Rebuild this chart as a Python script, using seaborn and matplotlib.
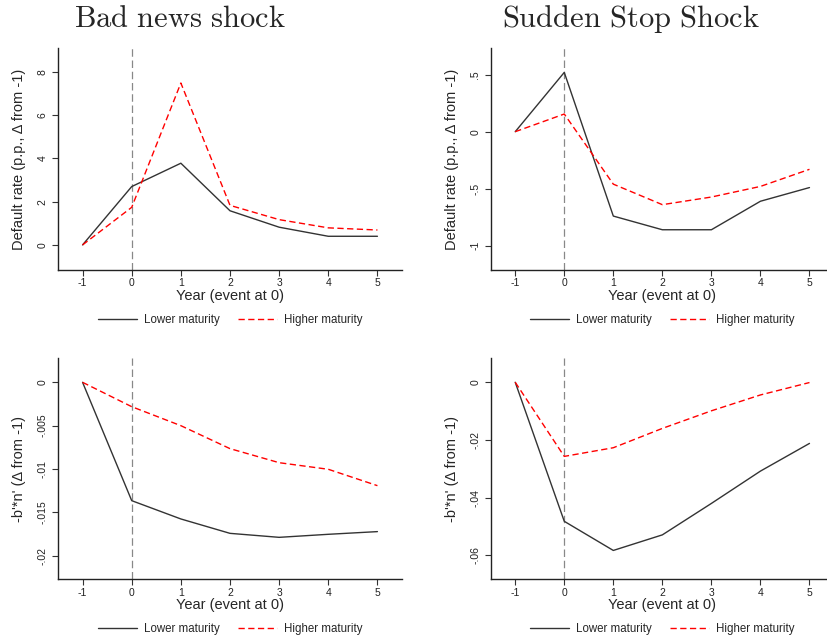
import numpy as np
import pandas as pd
import matplotlib
matplotlib.use("Agg")
import matplotlib.pyplot as plt
import seaborn as sns

years = [-1, 0, 1, 2, 3, 4, 5]
series_names = ["Lower maturity", "Higher maturity"]

# Bad news shock
bn_default_lower = [0.0, 2.7, 3.78, 1.58, 0.82, 0.40, 0.40]
bn_default_higher = [0.0, 1.74, 7.49, 1.83, 1.17, 0.79, 0.69]
bn_debt_lower = [0.0, -0.01365, -0.01576, -0.01742, -0.01788, -0.01753, -0.01722]
bn_debt_higher = [0.0, -0.00281, -0.0050, -0.00765, -0.00927, -0.01003, -0.01192]

# Sudden stop shock
ss_default_lower = [0.0, 0.52, -0.74, -0.86, -0.86, -0.61, -0.49]
ss_default_higher = [0.0, 0.155, -0.46, -0.64, -0.573, -0.48, -0.33]
ss_debt_lower = [0.0, -0.0482, -0.0583, -0.0529, -0.0420, -0.0308, -0.0212]
ss_debt_higher = [0.0, -0.0257, -0.0227, -0.0160, -0.0099, -0.0044, -0.0001]

titles = ["Bad news shock", "Sudden Stop Shock"]
xlabel = "Year (event at 0)"
ylabel_default = "Default rate (p.p., \u0394 from -1)"
ylabel_debt = "-b'*n' (\u0394 from -1)"

yt_bn_default = [0, 2, 4, 6, 8]
yt_bn_default_lab = ["0", "2", "4", "6", "8"]
yt_ss_default = [-1, -0.5, 0, 0.5]
yt_ss_default_lab = ["-1", "-.5", "0", ".5"]
yt_bn_debt = [-0.02, -0.015, -0.01, -0.005, 0]
yt_bn_debt_lab = ["-.02", "-.015", "-.01", "-.005", "0"]
yt_ss_debt = [-0.06, -0.04, -0.02, 0]
yt_ss_debt_lab = ["-.06", "-.04", "-.02", "0"]

sns.set_style("ticks")
plt.rcParams["font.family"] = ["Liberation Sans", "DejaVu Sans"]
plt.rcParams["mathtext.fontset"] = "cm"

W, H = 828, 641
fig = plt.figure(figsize=(W / 100, H / 100), dpi=100)

def add_ax(left, right, top, bottom):
    return fig.add_axes([left / W, 1 - bottom / H, (right - left) / W, (bottom - top) / H])

panels = [
    (add_ax(58, 402, 48, 270), bn_default_lower, bn_default_higher, ylabel_default, yt_bn_default, yt_bn_default_lab, (-1.16, 9.11)),
    (add_ax(490.7, 834, 48, 270), ss_default_lower, ss_default_higher, ylabel_default, yt_ss_default, yt_ss_default_lab, (-1.213, 0.734)),
    (add_ax(58, 402, 358.3, 579.3), bn_debt_lower, bn_debt_higher, ylabel_debt, yt_bn_debt, yt_bn_debt_lab, (-0.02272, 0.00277)),
    (add_ax(490.7, 834, 358.3, 579.3), ss_debt_lower, ss_debt_higher, ylabel_debt, yt_ss_debt, yt_ss_debt_lab, (-0.0683, 0.0083)),
]

palette = {"Lower maturity": "#333333", "Higher maturity": "#ff0000"}
dashes = {"Lower maturity": "", "Higher maturity": (4.5, 2.5)}

for ax, lower, higher, ylab, yt, ytl, ylim in panels:
    df = pd.DataFrame({
        "year": years * 2,
        "value": lower + higher,
        "series": [series_names[0]] * len(years) + [series_names[1]] * len(years),
    })
    ax.axvline(0, color="#888888", lw=0.9, dashes=(6, 3), zorder=1)
    sns.lineplot(data=df, x="year", y="value", hue="series", style="series",
                 palette=palette, dashes=dashes, hue_order=series_names,
                 style_order=series_names, linewidth=1.0, ax=ax, zorder=3)
    ax.set_xlim(-1.5, 5.5)
    ax.set_ylim(*ylim)
    ax.set_xticks(years, [str(y) for y in years])
    ax.set_yticks(yt, ytl)
    for lab in ax.get_yticklabels():
        lab.set_rotation(90)
        lab.set_va("center")
    ax.tick_params(axis="both", labelsize=7.5, length=4.5, width=0.8, color="#333333", labelcolor="#222222")
    ax.tick_params(axis="x", pad=1.5)
    ax.tick_params(axis="y", pad=3)
    ax.set_xlabel(xlabel, fontsize=10.5, labelpad=0.5)
    ax.set_ylabel(ylab, fontsize=10.5, labelpad=8)
    for s in ["top", "right"]:
        ax.spines[s].set_visible(False)
    for s in ["left", "bottom"]:
        ax.spines[s].set_linewidth(1.0)
        ax.spines[s].set_color("#222222")
    sns.move_legend(ax, "center", bbox_to_anchor=(0.5, -0.227), ncol=2, frameon=False,
                    title=None, fontsize=8.3, handlelength=3.4, handletextpad=0.6,
                    columnspacing=1.6)

fig.text(180 / W, 1 - 19 / H, r"$\mathrm{Bad\ news\ shock}$", fontsize=22, ha="center", va="center")
fig.text(631 / W, 1 - 19 / H, r"$\mathrm{Sudden\ Stop\ Shock}$", fontsize=22, ha="center", va="center")

fig.savefig("out.png", dpi=100)
